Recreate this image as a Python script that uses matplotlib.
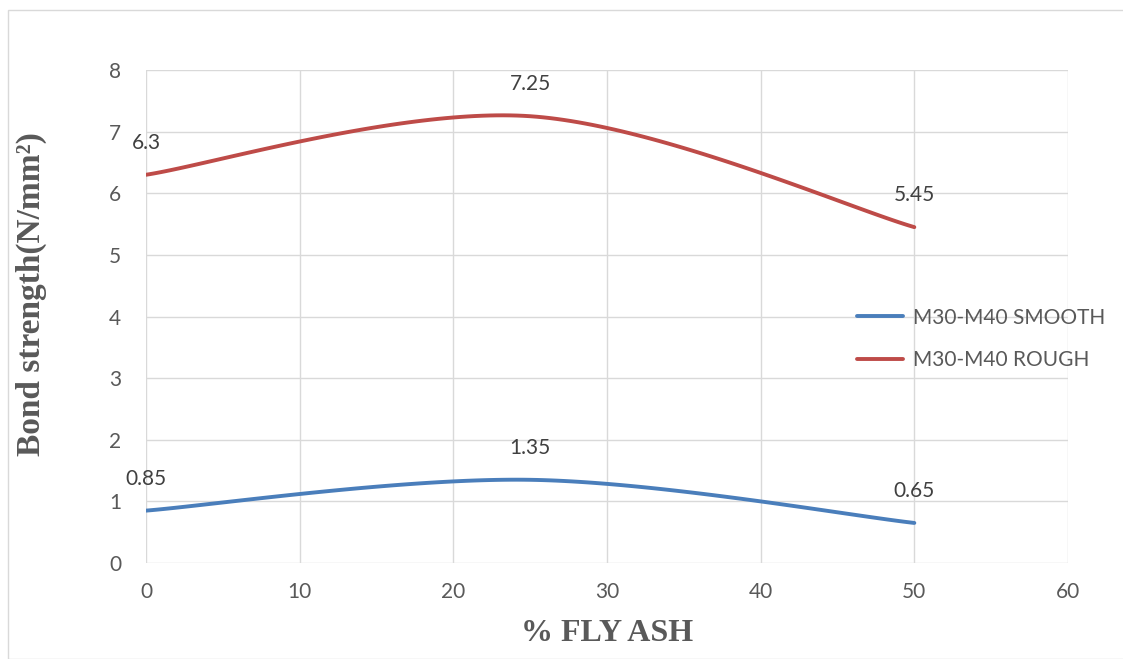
import numpy as np
import matplotlib
matplotlib.use("Agg")
import matplotlib.pyplot as plt
from matplotlib.patches import Rectangle

fly_ash = [0, 25, 50]
smooth_vals = [0.85, 1.35, 0.65]
rough_vals = [6.3, 7.25, 5.45]
series_names = ["M30-M40 SMOOTH", "M30-M40 ROUGH"]
colors = ["#4a7ebb", "#be4b48"]


def catmull(xs, ys, n=60):
    pts = np.column_stack([xs, ys]).astype(float)
    out = []
    for i in range(len(pts) - 1):
        p0 = pts[i - 1] if i > 0 else pts[i]
        p1 = pts[i]
        p2 = pts[i + 1]
        p3 = pts[i + 2] if i + 2 < len(pts) else pts[i + 1]
        c1 = p1 + (p2 - p0) / 6.0
        c2 = p2 - (p3 - p1) / 6.0
        t = np.linspace(0, 1, n)[:, None]
        seg = ((1 - t) ** 3) * p1 + 3 * ((1 - t) ** 2) * t * c1 + 3 * (1 - t) * t ** 2 * c2 + t ** 3 * p2
        out.append(seg if i == 0 else seg[1:])
    out = np.vstack(out)
    return out[:, 0], out[:, 1]


fig = plt.figure(figsize=(11.23, 6.59), dpi=100)
fig.patches.append(Rectangle((8 / 1123, 0), 1.2, 1 - 10 / 659, transform=fig.transFigure,
                             fill=False, edgecolor="#d9d9d9", linewidth=1.0))
ax = fig.add_axes([146 / 1123, 1 - 563 / 659, (1068 - 146) / 1123, (563 - 70) / 659])

tick_font = "Lato"
for vals, name, col in zip([smooth_vals, rough_vals], series_names, colors):
    sx, sy = catmull(fly_ash, vals)
    ax.plot(sx, sy, color=col, linewidth=2.8, label=name, solid_capstyle="round")
    for x, y in zip(fly_ash, vals):
        ax.annotate(f"{y:g}", (x, y), xytext=(0, 23), textcoords="offset points",
                    ha="center", va="center", fontsize=15, color="#404040", family=tick_font)

ax.set_xlim(0, 60)
ax.set_ylim(0, 8)
ax.set_xticks(range(0, 61, 10))
ax.set_yticks(range(0, 9, 1))
ax.grid(True, color="#d9d9d9", linewidth=1.0)
ax.set_axisbelow(True)
for s in ax.spines.values():
    s.set_visible(False)
ax.tick_params(length=0, labelsize=15, labelcolor="#595959", pad=14)
ax.tick_params(axis="y", pad=18)
for lbl in ax.get_xticklabels() + ax.get_yticklabels():
    lbl.set_family(tick_font)

ax.set_xlabel("% FLY ASH", fontsize=23, fontweight="bold", family="Liberation Serif",
              color="#595959", labelpad=12)
ax.set_ylabel("Bond strength(N/mm²)", fontsize=24, fontweight="bold", family="Liberation Serif",
              color="#595959", va="center")
ax.yaxis.set_label_coords(-0.124, 0.545)

leg = ax.legend(loc="center left", bbox_to_anchor=(838 / 1123, 1 - 339 / 659),
                bbox_transform=fig.transFigure, frameon=False, handlelength=2.2,
                handletextpad=0.5, labelspacing=1.1, prop={"family": tick_font, "size": 15})
for t in leg.get_texts():
    t.set_color("#595959")

fig.savefig("out.png", dpi=100)
